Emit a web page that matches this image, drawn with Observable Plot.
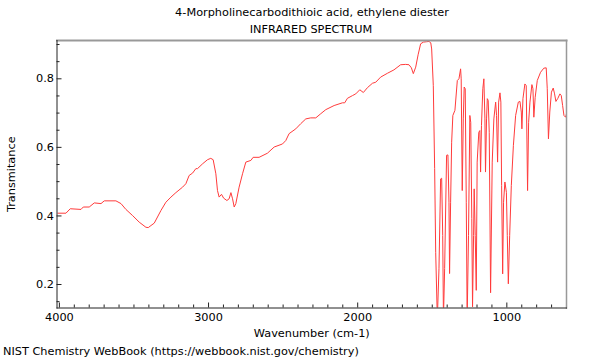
<!DOCTYPE html>
<html>
<head>
<meta charset="utf-8">
<script src="https://cdn.jsdelivr.net/npm/d3@7"></script>
<script src="https://cdn.jsdelivr.net/npm/@observablehq/plot@0.6"></script>
<style>
  html, body { margin: 0; padding: 0; background: #fff; }
  body { width: 600px; height: 360px; position: relative; overflow: hidden; font-family: "DejaVu Sans", sans-serif; color: #000; }
  .t { position: absolute; font-size: 11.3px; white-space: nowrap; line-height: 1; transform: translate(-50%, -50%); }
  #chart { position: absolute; left: 0; top: 38px; }
  #cap { position: absolute; left: 3px; top: 346px; font-size: 11.3px; white-space: nowrap; line-height: 1; }
</style>
</head>
<body>
<div class="t" style="left:312px; top:13px">4-Morpholinecarbodithioic acid, ethylene diester</div>
<div class="t" style="left:311px; top:30px">INFRARED SPECTRUM</div>
<div id="chart"></div>
<div id="cap">NIST Chemistry WebBook (https://webbook.nist.gov/chemistry)</div>
<script>
const title = "4-Morpholinecarbodithioic acid, ethylene diester";
const xLabel = "Wavenumber (cm-1)";
const yLabel = "Transmitance";
const xMajorTicks = [4000, 3000, 2000, 1000];
const yMajorTicks = [0.2, 0.4, 0.6, 0.8];

const wavenumber = [
  4010, 3956, 3927, 3855, 3840, 3800, 3766, 3721, 3699, 3621, 3587, 3554, 3509, 3465, 3420, 3404,
  3386, 3364, 3319, 3286, 3252, 3219, 3174, 3152, 3130, 3107, 3085, 3074, 3040, 3007, 2985, 2969,
  2951, 2940, 2929, 2913, 2899, 2877, 2862, 2850, 2839, 2828, 2817, 2795, 2772, 2750, 2716, 2701,
  2661, 2605, 2560, 2504, 2482, 2460, 2415, 2382, 2348, 2315, 2281, 2248, 2214, 2158, 2102, 2087,
  2069, 2035, 2013, 1986, 1962, 1935, 1901, 1879, 1846, 1801, 1757, 1712, 1678, 1656, 1640, 1627,
  1611, 1595, 1578, 1560, 1540, 1522, 1510, 1504, 1493, 1484, 1477, 1466, 1455, 1444, 1437, 1430,
  1425, 1417, 1404, 1395, 1388, 1384, 1377, 1370, 1362, 1348, 1332, 1321, 1310, 1306, 1299, 1292,
  1286, 1279, 1272, 1266, 1257, 1248, 1242, 1235, 1230, 1223, 1219, 1212, 1205, 1199, 1188, 1181,
  1176, 1170, 1161, 1154, 1147, 1143, 1136, 1131, 1125, 1118, 1109, 1098, 1087, 1075, 1069, 1062,
  1055, 1046, 1040, 1035, 1028, 1022, 1013, 1003, 997, 990, 981, 970, 956, 941, 923, 912,
  903, 899, 892, 879, 870, 861, 854, 845, 832, 825, 819, 810, 796, 774, 752, 736,
  729, 721, 712, 701, 689, 680, 671, 658, 644, 635, 626, 617, 606, 600
];
const transmittance = [
  0.408, 0.408, 0.421, 0.419, 0.426, 0.426, 0.438, 0.436, 0.444, 0.444, 0.436, 0.419, 0.401, 0.382, 0.367, 0.366,
  0.372, 0.379, 0.416, 0.440, 0.455, 0.468, 0.484, 0.494, 0.518, 0.525, 0.538, 0.538, 0.552, 0.564, 0.568, 0.564,
  0.523, 0.474, 0.455, 0.463, 0.452, 0.445, 0.450, 0.468, 0.450, 0.426, 0.436, 0.484, 0.523, 0.557, 0.562, 0.571,
  0.571, 0.583, 0.601, 0.610, 0.620, 0.640, 0.654, 0.669, 0.683, 0.686, 0.686, 0.698, 0.710, 0.722, 0.730, 0.730,
  0.743, 0.751, 0.756, 0.768, 0.760, 0.774, 0.787, 0.790, 0.805, 0.816, 0.826, 0.841, 0.842, 0.841, 0.832, 0.815,
  0.834, 0.870, 0.902, 0.907, 0.908, 0.909, 0.905, 0.887, 0.780, 0.538, 0.294, 0.100, 0.246, 0.508, 0.510, 0.343,
  0.100, 0.247, 0.577, 0.578, 0.440, 0.232, 0.440, 0.615, 0.693, 0.708, 0.795, 0.800, 0.829, 0.800, 0.474, 0.683,
  0.776, 0.771, 0.440, 0.100, 0.343, 0.693, 0.673, 0.392, 0.135, 0.343, 0.479, 0.343, 0.183, 0.557, 0.644, 0.649,
  0.528, 0.664, 0.771, 0.800, 0.683, 0.528, 0.683, 0.742, 0.737, 0.644, 0.176, 0.557, 0.683, 0.732, 0.693, 0.557,
  0.732, 0.759, 0.732, 0.489, 0.231, 0.440, 0.499, 0.469, 0.343, 0.202, 0.343, 0.489, 0.606, 0.693, 0.732, 0.734,
  0.703, 0.654, 0.742, 0.785, 0.780, 0.474, 0.673, 0.732, 0.783, 0.771, 0.688, 0.746, 0.795, 0.819, 0.831, 0.832,
  0.771, 0.625, 0.703, 0.761, 0.773, 0.756, 0.734, 0.743, 0.756, 0.751, 0.722, 0.693, 0.688, 0.698
];

const spectrum = wavenumber.map((w, i) => ({w, t: transmittance[i]}));
const xMinorTicks = d3.range(4000, 600, -100).filter(v => !xMajorTicks.includes(v));
const yMinorTicks = d3.range(15, 95, 5).map(v => v / 100).filter(v => !yMajorTicks.some(m => Math.abs(m - v) < 1e-9));

const W = 600, H = 302, mT = 2, mB = 32.5, mL = 56.5, mR = 34;
const fw = W - mL - mR, fh = H - mT - mB;

const plot = Plot.plot({
  width: W, height: H,
  marginTop: mT, marginBottom: mB, marginLeft: mL, marginRight: mR,
  style: {fontFamily: "DejaVu Sans, sans-serif", fontSize: "11.3px", color: "#000", background: "#fff"},
  x: {domain: [4016, 600], ticks: xMajorTicks, tickFormat: d => String(d), label: null},
  y: {domain: [0.1315, 0.9117], ticks: yMajorTicks, tickFormat: d => d.toFixed(1), label: null},
  marks: [
    Plot.line(spectrum, {x: "w", y: "t", stroke: "#ff3b3b", strokeWidth: 1, clip: true, curve: "linear"}),
    Plot.frame({anchor: "top", stroke: "#999", strokeWidth: 2}),
    Plot.frame({anchor: "right", stroke: "#999", strokeWidth: 1.5}),
    Plot.frame({anchor: "left", stroke: "#222", strokeWidth: 1}),
    Plot.frame({anchor: "bottom", stroke: "#222", strokeWidth: 1}),
    Plot.tickX(xMajorTicks, {x: d => d, stroke: "#222", insetTop: fh - 5}),
    Plot.tickX(xMinorTicks, {x: d => d, stroke: "#222", insetTop: fh - 3}),
    Plot.tickY(yMajorTicks, {y: d => d, stroke: "#222", insetRight: fw - 5}),
    Plot.tickY(yMinorTicks, {y: d => d, stroke: "#222", insetRight: fw - 3}),
    Plot.axisX({ticks: xMajorTicks, tickSize: 0, tickPadding: 5, tickFormat: d => String(d), label: null}),
    Plot.axisY({ticks: yMajorTicks, tickSize: 0, tickPadding: 3, tickFormat: d => d.toFixed(1), label: null}),
    Plot.text([xLabel], {frameAnchor: "bottom", dy: 29, text: d => d, fontSize: 11.3, textAnchor: "middle"}),
    Plot.text([yLabel], {frameAnchor: "left", dx: -46, rotate: -90, text: d => d, fontSize: 11.3, textAnchor: "middle"})
  ]
});
document.getElementById("chart").appendChild(plot);
</script>
</body>
</html>
